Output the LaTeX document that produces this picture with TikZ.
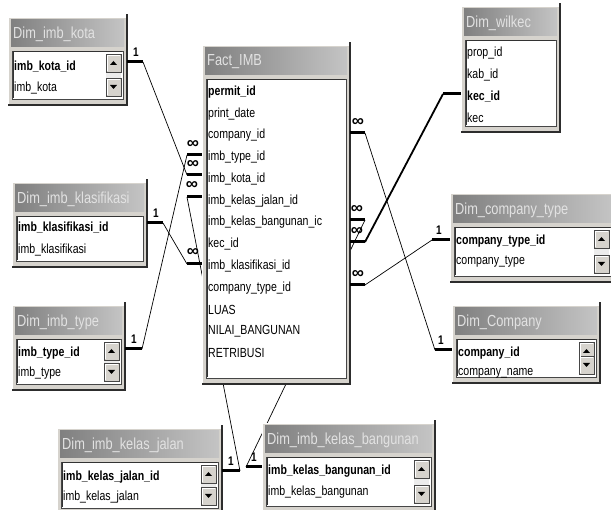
\documentclass[tikz,border=0pt]{standalone}
\usepackage{fontspec}
\setmainfont{Liberation Sans}[FakeStretch=0.8]
\newfontfamily\symfont{Liberation Sans}
\usepackage{tikz}
\usetikzlibrary{calc}

\definecolor{face}{RGB}{214,211,205}
\definecolor{titleL}{RGB}{128,128,128}
\definecolor{titleR}{RGB}{196,196,196}
\definecolor{titletext}{RGB}{226,226,226}

% table window: name, left, top, right, bottom, title
\newcommand{\erdtable}[6]{%
  \node[frame, minimum width={#4-#2}, minimum height={#5-#3}] (#1) at (#2,#3) {};
  \draw[edgelight] (#2,#5) -- (#2,#3) -- (#4,#3);
  \draw[edgedark] (#2,#5) -- (#4,#5) -- (#4,#3-3);
  \shade[left color=titleL, right color=titleR] (#2+3,#3+3) rectangle (#4-3,#3+30);
  \node[tabtitle] (#1-t) at (#2+5,#3+17) {#6};
  \filldraw[bodybox] (#2+4,#3+34) rectangle (#4-4,#5-6);
  \draw[sunken] (#2+5,#5-7) -- (#2+5,#3+35) -- (#4-5,#3+35);
}
% scroll bar: right, top, bottom
\newcommand{\erdscroll}[3]{%
  \fill[gray!15] (#1-21,#2+37) rectangle (#1-6,#3-9);
  \filldraw[btn] (#1-21,#2+37) rectangle (#1-6,#2+55);
  \filldraw[btn] (#1-21,#3-27) rectangle (#1-6,#3-9);
  \draw[white] (#1-20,#2+54) -- (#1-20,#2+38) -- (#1-7,#2+38);
  \draw[white] (#1-20,#3-10) -- (#1-20,#3-26) -- (#1-7,#3-26);
  \fill (#1-17,#2+48) -- (#1-10,#2+48) -- (#1-13.5,#2+44) -- cycle;
  \fill (#1-17,#3-20) -- (#1-10,#3-20) -- (#1-13.5,#3-16) -- cycle;
}

\begin{document}
\begin{tikzpicture}[x=1pt, y=-1pt,
  frame/.style={rectangle, fill=face, inner sep=0pt, anchor=north west},
  edgedark/.style={gray!35!black, line width=1.6pt},
  edgelight/.style={white, line width=0.8pt},
  bodybox/.style={fill=white, draw=gray!55!black, line width=0.8pt},
  sunken/.style={black!80, line width=1pt},
  tabtitle/.style={anchor=west, inner sep=0pt, text=titletext, font=\fontsize{16}{18}\selectfont},
  field/.style={anchor=west, inner sep=0pt, font=\fontsize{13.2}{15}\selectfont},
  keyfield/.style={field, font=\fontsize{13.2}{15}\selectfont\bfseries},
  btn/.style={fill=face, draw=gray!55!black, line width=0.6pt},
  stub/.style={line width=3pt},
  rel/.style={line width=0.7pt},
  many/.style={font=\symfont\fontsize{17}{17}\selectfont\bfseries, inner sep=0pt},
  one/.style={font=\fontsize{12.5}{12}\selectfont\bfseries, inner sep=0pt}
]
  \path[use as bounding box, fill=white] (0,0) rectangle (611,510);
  \clip (0,0) rectangle (611,510);

  \coordinate (kota-a) at (143,62);   \coordinate (kota-b) at (187,175);
  \coordinate (klas-a) at (163,223);  \coordinate (klas-b) at (187,264);
  \coordinate (type-a) at (142,349);  \coordinate (type-b) at (187,155);
  \coordinate (jalan-a) at (240,471); \coordinate (jalan-b) at (187,197);
  \coordinate (bang-a) at (246,467);  \coordinate (bang-b) at (365,220);
  \coordinate (kec-a) at (443,94);    \coordinate (kec-b) at (365,242);
  \coordinate (ctype-a) at (432,240); \coordinate (ctype-b) at (365,285);
  \coordinate (comp-a) at (435,350);  \coordinate (comp-b) at (365,133);

  % relationship lines, behind the tables
  \draw[rel] (kota-a) -- (kota-b);
  \draw[rel] (klas-a) -- (klas-b);
  \draw[rel] (type-a) -- (type-b);
  \draw[rel] (jalan-a) -- (jalan-b);
  \draw[rel] (bang-a) -- (bang-b);
  \draw[rel, line width=1.8pt] (kec-a) -- (kec-b);
  \draw[rel] (ctype-a) -- (ctype-b);
  \draw[rel] (comp-a) -- (comp-b);

  \erdtable{kota}{8}{17}{127}{105}{Dim\_imb\_kota}
  \erdscroll{127}{17}{105}
  \node[keyfield] (kota-k) at (14,67) {imb\_kota\_id};
  \node[field] (kota-f) at (14,88) {imb\_kota};

  \erdtable{klas}{12}{182}{147}{267}{Dim\_imb\_klasifikasi}
  \node[keyfield] (klas-k) at (18,228) {imb\_klasifikasi\_id};
  \node[field] (klas-f) at (18,250) {imb\_klasifikasi};

  \erdtable{type}{12}{305}{125}{390}{Dim\_imb\_type}
  \erdscroll{125}{305}{390}
  \node[keyfield] (type-k) at (18,353) {imb\_type\_id};
  \node[field] (type-f) at (18,373) {imb\_type};

  \erdtable{jalan}{57}{428}{222}{514}{Dim\_imb\_kelas\_jalan}
  \erdscroll{222}{428}{514}
  \node[keyfield] (jalan-k) at (63,477) {imb\_kelas\_jalan\_id};
  \node[field] (jalan-f) at (63,497) {imb\_kelas\_jalan};

  \erdtable{bang}{262}{423}{435}{512}{Dim\_imb\_kelas\_bangunan}
  \erdscroll{435}{423}{512}
  \node[keyfield] (bang-k) at (268,471) {imb\_kelas\_bangunan\_id};
  \node[field] (bang-f) at (268,492) {imb\_kelas\_bangunan};

  \erdtable{wilkec}{461}{6}{560}{132}{Dim\_wilkec}
  \node[field] (wilkec-1) at (467,53) {prop\_id};
  \node[field] (wilkec-2) at (467,75) {kab\_id};
  \node[keyfield] (wilkec-k) at (467,97) {kec\_id};
  \node[field] (wilkec-3) at (467,118) {kec};

  \erdtable{ctype}{450}{193}{615}{282}{Dim\_company\_type}
  \erdscroll{615}{193}{282}
  \node[keyfield] (ctype-k) at (456,241) {company\_type\_id};
  \node[field] (ctype-f) at (456,262) {company\_type};

  \erdtable{comp}{452}{305}{600}{383}{Dim\_Company}
  \erdscroll{600}{305}{383}
  \node[keyfield] (comp-k) at (458,353) {company\_id};
  \node[field] (comp-f) at (458,373) {company\_name};

  \erdtable{fact}{202}{45}{350}{384}{Fact\_IMB}
  \node[keyfield] (fact-0) at (208,92) {permit\_id};
  \foreach \f [count=\i] in {print\_date, company\_id, imb\_type\_id, imb\_kota\_id,
      imb\_kelas\_jalan\_id, imb\_kelas\_bangunan\_ic, kec\_id, imb\_klasifikasi\_id,
      company\_type\_id, LUAS, NILAI\_BANGUNAN, RETRIBUSI}
    \node[field] (fact-\i) at (208,92+21.75*\i) {\f};

  % stubs at both ends
  \draw[stub] (kota.east |- kota-a) -- (kota-a);
  \draw[stub] (klas.east |- klas-a) -- (klas-a);
  \draw[stub] (type.east |- type-a) -- (type-a);
  \draw[stub] (jalan.east |- jalan-a) -- (jalan-a);
  \draw[stub] (bang-a) -- (bang.west |- bang-a);
  \draw[stub] (kec-a) -- (wilkec.west |- kec-a);
  \draw[stub] (ctype-a) -- (ctype.west |- ctype-a);
  \draw[stub] (comp-a) -- (comp.west |- comp-a);
  \draw[stub] (kota-b) -- (fact.west |- kota-b);
  \draw[stub] (klas-b) -- (fact.west |- klas-b);
  \draw[stub] (type-b) -- (fact.west |- type-b);
  \draw[stub] (jalan-b) -- (fact.west |- jalan-b);
  \draw[stub] (fact.east |- bang-b) -- (bang-b);
  \draw[stub] (fact.east |- kec-b) -- (kec-b);
  \draw[stub] (fact.east |- ctype-b) -- (ctype-b);
  \draw[stub] (fact.east |- comp-b) -- (comp-b);

  \node[one] (kota-1) at (136,52) {1};
  \node[one] (klas-1) at (156,213) {1};
  \node[one] (type-1) at (134,339) {1};
  \node[one] (jalan-1) at (231,461) {1};
  \node[one] (bang-1) at (254,457) {1};
  \node[one] (ctype-1) at (439,230) {1};
  \node[one] (comp-1) at (441,340) {1};

  \node[many] (type-m) at (193,145) {∞};
  \node[many] (kota-m) at (193,165) {∞};
  \node[many] (jalan-m) at (192,186) {∞};
  \node[many] (klas-m) at (193,253) {∞};
  \node[many] (comp-m) at (358,123) {∞};
  \node[many] (bang-m) at (357,210) {∞};
  \node[many] (kec-m) at (357,232) {∞};
  \node[many] (ctype-m) at (358,275) {∞};
\end{tikzpicture}
\end{document}
